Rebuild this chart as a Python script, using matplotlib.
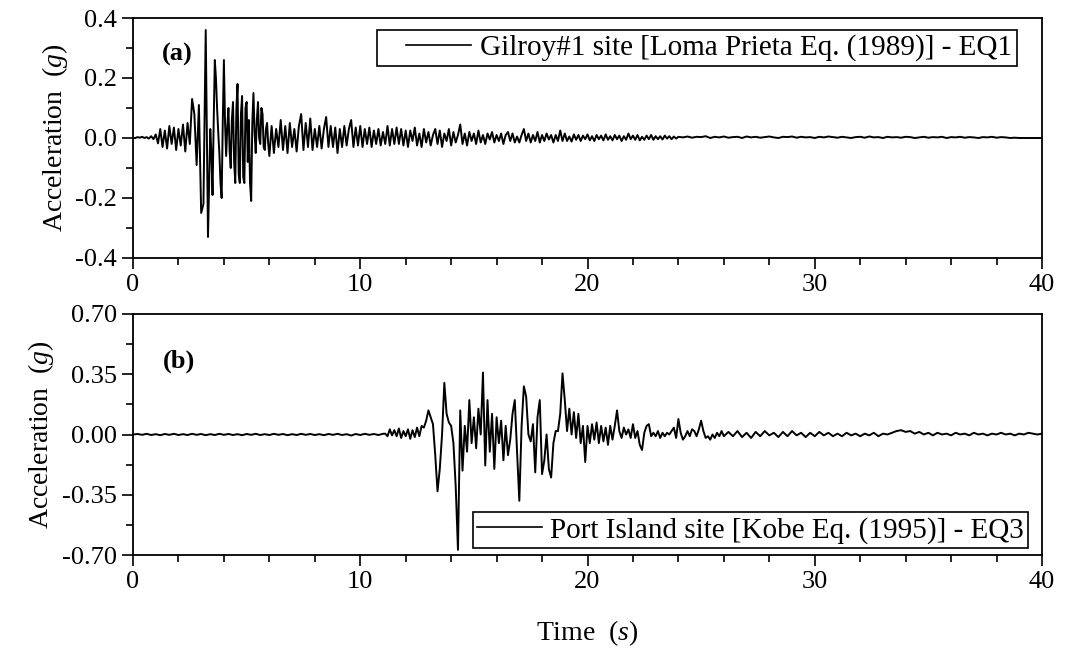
"""
Ground motion records: acceleration time histories of EQ1 and EQ3
"""
import numpy as np
import matplotlib
matplotlib.use("Agg")
from matplotlib import pyplot as plt
from matplotlib.ticker import MultipleLocator, FormatStrFormatter
from matplotlib.legend_handler import HandlerLine2D

# --- EQ1: Gilroy#1 (Loma Prieta 1989) ---
# 0.0 s .. 3.4 s every 0.1 s
accel_a_onset = [
    0.000, 0.000, 0.003, 0.001, 0.004, 0.000, 0.003, -0.002, 0.006, -0.004,
    0.012, -0.018, 0.030, -0.030, 0.025, -0.035, 0.040, -0.020, 0.035, -0.040,
    0.030, -0.025, 0.045, -0.045, 0.050, -0.020, 0.130, 0.080, -0.090, 0.110,
    -0.250, -0.220, 0.360, -0.330, 0.030]
# 3.45 s .. 6.0 s every 0.05 s (strong motion)
accel_a_strong = [
    -0.050, -0.190, 0.050, 0.260, 0.200, 0.100, 0.020, -0.050, -0.150, -0.200,
    0.050, 0.260,
    0.050, -0.060, 0.040, 0.100, -0.040, -0.100, 0.060, 0.120, -0.080, -0.150,
    0.100, 0.180, -0.120, -0.150, 0.080, 0.140, -0.130, -0.150, 0.100, 0.120,
    -0.080, 0.060, -0.150, -0.210, 0.050, 0.150, 0.020, -0.050, 0.060, 0.120,
    0.000, -0.020, 0.100, 0.080, -0.030, -0.040, 0.030, 0.050, -0.020, -0.060]
# 6.1 s .. 12.0 s every 0.1 s
accel_a_early = [
    0.040, -0.050, 0.030, -0.030, 0.060, -0.040, 0.040, -0.050, 0.050,
    -0.030, 0.030, -0.045, 0.040, 0.080, -0.040, 0.050, -0.030, 0.065, -0.040,
    0.030, -0.030, 0.040, -0.035, 0.030, 0.070, -0.030, 0.040, -0.030, 0.035,
    -0.050, 0.030, -0.030, 0.040, -0.025, 0.030, 0.060, -0.030, 0.035, -0.025,
    0.040, -0.030, 0.030, -0.020, 0.035, -0.030, 0.025, -0.020, 0.030, -0.025,
    0.020, -0.020, 0.040, -0.025, 0.030, -0.020, 0.035, -0.020, 0.030, -0.025,
    0.025]
# 12.1 s .. 24.0 s every 0.1 s
accel_a_mid = [
    -0.030, 0.025, -0.010, 0.035, -0.025, 0.015, -0.030, 0.030, -0.015, 0.020,
    -0.025, 0.010, 0.030, -0.020, 0.025, -0.030, 0.015, -0.010, 0.030, -0.025,
    0.020, -0.015, 0.010, 0.045, -0.020, 0.015, -0.025, 0.020, -0.010, 0.015,
    -0.020, 0.025, -0.015, 0.010, -0.020, 0.015, -0.005, 0.020, -0.015, 0.010,
    -0.010, 0.015, -0.020, 0.010, 0.020, -0.010, 0.015, -0.015, 0.005, -0.015,
    0.010, 0.030, -0.010, 0.015, -0.015, 0.010, -0.010, 0.020, -0.015, 0.010,
    -0.010, 0.015, -0.005, 0.010, -0.015, 0.010, -0.010, 0.025, -0.010, 0.015,
    -0.010, 0.005, -0.012, 0.012, -0.006, 0.010, -0.010, 0.008, -0.004, 0.012,
    -0.008, 0.006, -0.010, 0.010, -0.004, 0.008, -0.008, 0.012, -0.006, 0.006,
    -0.008, 0.010, -0.004, 0.008, -0.010, 0.006, -0.006, 0.015, -0.004, 0.008,
    -0.006, 0.010, -0.008, 0.004, -0.006, 0.008, -0.004, 0.010, -0.006, 0.006,
    -0.004, 0.006, -0.005, 0.008, -0.002, 0.006, -0.004, 0.005, -0.002, 0.004]
# 24.2 s .. 40.0 s every 0.2 s
accel_a_late = [
    0.002, 0.005, 0.001, 0.004, 0.003, 0.006, 0.000, 0.004, 0.002, 0.005,
    0.001, 0.003, 0.004, 0.000, 0.005, 0.002, 0.004, 0.001, 0.003, 0.005,
    0.002, 0.000, 0.004, 0.003, 0.005, 0.001, 0.004, 0.002, 0.003, 0.000,
    0.004, 0.002, 0.005, 0.003, 0.001, 0.004, 0.002, 0.000, 0.003, 0.004,
    0.001, 0.005, 0.002, 0.003, 0.000, 0.004, 0.002, 0.003, 0.001, 0.004,
    0.003, 0.000, 0.002, 0.004, 0.001, 0.003, 0.002, 0.004, 0.000, 0.003,
    0.002, 0.004, 0.001, 0.003, 0.002, 0.000, 0.003, 0.002, 0.004, 0.001,
    0.003, 0.002, 0.000, 0.001, 0.000, 0.000, 0.000, 0.000, 0.000, 0.000]

# --- EQ3: Port Island (Kobe 1995) ---
# 0.0 s .. 11.0 s every 0.2 s
accel_b_pre = [
    0.000, 0.003, -0.002, 0.004, -0.003, 0.002, -0.004, 0.003, -0.002, 0.004,
    -0.003, 0.002, -0.003, 0.004, -0.002, 0.003, -0.004, 0.002, -0.003, 0.004,
    -0.002, 0.003, -0.003, 0.002, -0.004, 0.003, -0.002, 0.004, -0.003, 0.002,
    -0.003, 0.004, -0.002, 0.003, -0.004, 0.002, -0.003, 0.004, -0.002, 0.003,
    -0.003, 0.002, -0.004, 0.003, -0.002, 0.004, -0.003, 0.002, -0.006, 0.003,
    -0.003, 0.004, -0.002, 0.003, -0.003, 0.004]
# 11.1 s .. 26.0 s every 0.1 s
accel_b_main = [
    0.005, -0.010, 0.030, -0.005, 0.025, -0.010, 0.035, -0.020, 0.020, -0.010,
    0.030, -0.025, 0.025, -0.015, 0.040, -0.010, 0.050, 0.040, 0.080, 0.140,
    0.100, 0.060, -0.120, -0.330, -0.200, 0.000, 0.300, 0.120, 0.070, 0.050,
    -0.050, -0.300, -0.670, 0.140, -0.210, 0.050, -0.100, 0.200, -0.050, 0.100,
    -0.080, 0.150, 0.000, 0.360, -0.180, 0.200, -0.100, 0.120, -0.200, 0.100,
    -0.050, 0.080, -0.150, 0.050, -0.120, -0.030, 0.120, 0.200, -0.100, -0.385,
    0.050, 0.280, 0.220, 0.000, -0.040, 0.060, -0.220, 0.100, 0.200, -0.230,
    -0.150, 0.000, -0.200, -0.250, -0.050, 0.020, 0.020, 0.120, 0.355, 0.200,
    0.020, 0.150, 0.000, 0.130, -0.020, 0.120, -0.050, 0.050, -0.160, 0.050,
    -0.050, 0.060, -0.030, 0.070, -0.050, 0.050, -0.040, 0.040, -0.060, 0.050,
    -0.030, 0.050, 0.140, 0.020, -0.020, 0.040, 0.000, 0.030, -0.020, 0.060,
    -0.020, 0.020, -0.060, -0.090, 0.010, 0.050, 0.060, -0.010, 0.010, -0.010,
    0.020, -0.020, 0.010, -0.010, 0.010, 0.000, 0.020, 0.040, -0.020, 0.090,
    0.010, -0.030, -0.010, 0.020, -0.010, 0.030, 0.020, -0.010, 0.030, 0.080,
    0.020, -0.020, -0.010, -0.030, 0.000, -0.020, 0.010, -0.010, 0.020, -0.010]
# 26.2 s .. 40.0 s every 0.2 s
accel_b_post = [
    0.015, -0.010, 0.020, -0.015, 0.010, -0.020, 0.015, -0.010, 0.020, -0.005,
    0.010, -0.015, 0.015, -0.010, 0.020, -0.005, 0.010, -0.015, 0.010, -0.010,
    0.015, -0.005, 0.010, -0.010, 0.005, -0.010, 0.010, -0.005, 0.005, -0.010,
    0.005, -0.005, 0.010, -0.010, 0.005, 0.000, 0.010, 0.020, 0.025, 0.015,
    0.020, 0.005, 0.015, 0.000, 0.010, -0.005, 0.010, 0.000, 0.005, -0.005,
    0.010, 0.000, 0.005, -0.005, 0.010, 0.000, 0.005, -0.005, 0.005, 0.000,
    0.010, 0.000, 0.005, -0.005, 0.005, 0.000, 0.010, 0.005, 0.000, 0.005]

label_a = "Gilroy#1 site [Loma Prieta Eq. (1989)] - EQ1"
label_b = "Port Island site [Kobe Eq. (1995)] - EQ3"


def timeAxis(segments):
    """Builds (time, accel) from a list of (start, step, values) segments."""
    t, a = [], []
    for start, step, values in segments:
        t.extend(start + step * np.arange(len(values)))
        a.extend(values)
    return np.array(t), np.array(a)


def styleAxes(ax, ylim, ymajor, yfmt):
    ax.set_xlim(0, 40)
    ax.set_ylim(-ylim, ylim)
    ax.xaxis.set_major_locator(MultipleLocator(10))
    ax.xaxis.set_minor_locator(MultipleLocator(2))
    ax.yaxis.set_major_locator(MultipleLocator(ymajor))
    ax.yaxis.set_minor_locator(MultipleLocator(ymajor / 2))
    ax.yaxis.set_major_formatter(FormatStrFormatter(yfmt))
    ax.tick_params(which="both", direction="out", top=False, right=False,
                   width=1.2, labelsize=19)
    ax.tick_params(which="major", length=8)
    ax.tick_params(which="minor", length=5)
    for s in ax.spines.values():
        s.set_linewidth(1.3)
    ax.set_ylabel("Acceleration  ($g$)", fontsize=20)


def main():
    plt.rcParams["font.family"] = ["Liberation Serif", "DejaVu Serif"]
    plt.rcParams["mathtext.fontset"] = "custom"
    plt.rcParams["mathtext.rm"] = "Liberation Serif"
    plt.rcParams["mathtext.it"] = "Liberation Serif:italic"
    plt.rcParams["axes.unicode_minus"] = False

    ta, aa = timeAxis([(0.0, 0.1, accel_a_onset), (3.45, 0.05, accel_a_strong),
                       (6.1, 0.1, accel_a_early), (12.1, 0.1, accel_a_mid),
                       (24.2, 0.2, accel_a_late)])
    tb, ab = timeAxis([(0.0, 0.2, accel_b_pre), (11.1, 0.1, accel_b_main),
                       (26.2, 0.2, accel_b_post)])

    W, H = 1067, 658
    fig = plt.figure(figsize=(W / 100, H / 100), dpi=100)
    ax1 = fig.add_axes([133 / W, 1 - 258 / H, 909 / W, 240 / H])
    ax2 = fig.add_axes([133 / W, 1 - 555 / H, 909 / W, 241 / H])

    # (a) EQ1
    line_a, = ax1.plot(ta, aa, color="black", lw=1.4)
    styleAxes(ax1, 0.4, 0.2, "%.1f")
    ax1.text(0.032, 0.85, "(a)", transform=ax1.transAxes, fontsize=19,
             fontweight="bold", va="center", ha="left")
    leg = ax1.legend([line_a], [label_a], loc="upper left",
                     bbox_to_anchor=(0.268, 0.95), borderaxespad=0,
                     fontsize=21, fancybox=False, framealpha=1,
                     edgecolor="black", borderpad=0.15, handlelength=3.1,
                     handletextpad=0.3,
                     handler_map={line_a: HandlerLine2D(xpad=0.85)})
    leg.get_frame().set_linewidth(1.2)
    leg.get_lines()[0].set_linewidth(1.2)

    # (b) EQ3
    line_b, = ax2.plot(tb, ab, color="black", lw=1.4)
    styleAxes(ax2, 0.7, 0.35, "%.2f")
    ax2.text(0.033, 0.805, "(b)", transform=ax2.transAxes, fontsize=19,
             fontweight="bold", va="center", ha="left")
    leg = ax2.legend([line_b], [label_b], loc="lower left",
                     bbox_to_anchor=(0.374, 0.029), borderaxespad=0,
                     fontsize=21, fancybox=False, framealpha=1,
                     edgecolor="black", borderpad=0.15, handlelength=2.2,
                     handletextpad=0.3)
    leg.get_frame().set_linewidth(1.2)
    leg.get_lines()[0].set_linewidth(1.2)
    ax2.set_xlabel("Time  ($s$)", fontsize=20, labelpad=18)

    fig.savefig("out.png", dpi=100)
    plt.close(fig)


if (__name__ == "__main__"):
    main()
